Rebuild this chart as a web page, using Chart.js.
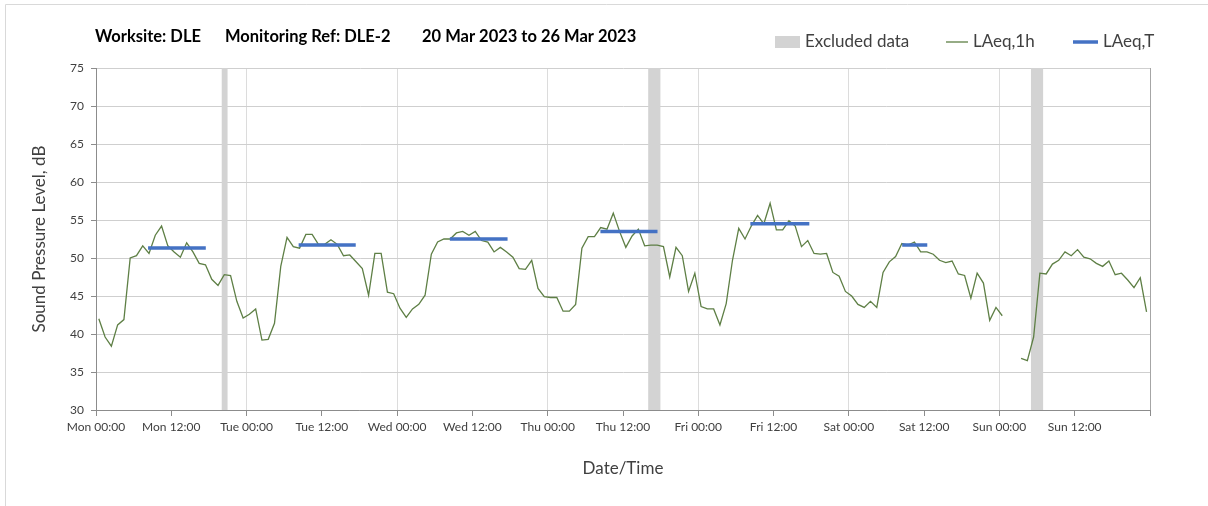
<!DOCTYPE html>
<html>
<head>
<meta charset="utf-8">
<script src="https://cdn.jsdelivr.net/npm/chart.js@4.4.0/dist/chart.umd.min.js"></script>
<style>
  html, body { margin: 0; padding: 0; background: #ffffff; }
  #wrap { width: 1208px; height: 506px; position: relative; }
</style>
</head>
<body>
<div id="wrap"><canvas id="c" width="1208" height="506"></canvas></div>
<script>
// ---- Data -------------------------------------------------------------
const titleParts = ['Worksite: DLE', 'Monitoring Ref: DLE-2', '20 Mar 2023 to 26 Mar 2023'];

// x-axis tick labels, one every 12 hours from Monday 00:00
const tickLabels = ['Mon 00:00', 'Mon 12:00', 'Tue 00:00', 'Tue 12:00', 'Wed 00:00', 'Wed 12:00',
  'Thu 00:00', 'Thu 12:00', 'Fri 00:00', 'Fri 12:00', 'Sat 00:00', 'Sat 12:00', 'Sun 00:00', 'Sun 12:00'];

// Hourly LAeq,1h (dB), hour 0 = Mon 00:00; null = no reading
const laeq1h = [
  42.0, 39.6, 38.4, 41.2, 41.9, 50.0, 50.3, 51.6, 50.6, 53.0, 54.2, 51.6,
  50.8, 50.1, 52.0, 50.8, 49.3, 49.1, 47.2, 46.4, 47.8, 47.7, 44.3, 42.1,
  42.6, 43.3, 39.2, 39.3, 41.4, 48.9, 52.7, 51.5, 51.3, 53.1, 53.1, 51.8,
  51.8, 52.4, 51.8, 50.3, 50.4, 49.5, 48.6, 45.1, 50.6, 50.6, 45.5, 45.3,
  43.4, 42.2, 43.3, 43.9, 45.1, 50.5, 52.1, 52.5, 52.5, 53.3, 53.5, 53.0,
  53.5, 52.3, 52.1, 50.8, 51.4, 50.8, 50.1, 48.6, 48.5, 49.7, 46.0, 44.9,
  44.8, 44.8, 43.0, 43.0, 43.9, 51.3, 52.8, 52.8, 54.0, 53.8, 55.9, 53.5,
  51.4, 52.9, 53.8, 51.6, 51.7, 51.7, 51.5, 47.5, 51.4, 50.3, 45.6, 48.0,
  43.6, 43.3, 43.3, 41.2, 44.0, 49.7, 53.9, 52.5, 54.2, 55.6, 54.5, 57.2,
  53.7, 53.7, 54.9, 54.2, 51.5, 52.3, 50.6, 50.5, 50.6, 48.1, 47.6, 45.6,
  45.0, 43.9, 43.5, 44.3, 43.5, 48.1, 49.5, 50.2, 51.9, 51.7, 52.1, 50.8,
  50.8, 50.5, 49.7, 49.4, 49.6, 47.9, 47.7, 44.7, 48.0, 46.7, 41.8, 43.5,
  42.4, null, null, 36.8, 36.5, 39.6, 48.0, 47.9, 49.2, 49.7, 50.8, 50.3,
  51.1, 50.1, 49.9, 49.3, 48.9, 49.6, 47.8, 48.0, 47.1, 46.1, 47.4, 42.9
];

// Daytime assessment periods (hours from Mon 00:00) and their LAeq,T (dB)
const periodStart = [8.3, 32.3, 56.4, 80.4, 104.3, 128.5];
const periodEnd   = [17.5, 41.4, 65.6, 89.5, 113.7, 132.5];
const laeqT       = [51.3, 51.7, 52.5, 53.5, 54.5, 51.7];

// Excluded periods (hours from Mon 00:00)
const excludedStart = [20, 88, 149];
const excludedEnd   = [21, 90, 151];

// ---- Build chart data -------------------------------------------------
const hourOffset = 0.45;   // each hourly reading plotted inside its hour
const Y_MIN = 30, Y_MAX = 75;

const laeq1hPoints = laeq1h.map((v, i) => ({ x: i + hourOffset, y: v }));

const laeqTPoints = [];
periodStart.forEach((s, i) => {
  laeqTPoints.push({ x: s, y: laeqT[i] }, { x: periodEnd[i], y: laeqT[i] }, { x: periodEnd[i] + 0.01, y: null });
});

const excludedPoints = [];
excludedStart.forEach((s, i) => {
  excludedPoints.push({ x: s, y: Y_MAX }, { x: excludedEnd[i], y: Y_MAX }, { x: excludedEnd[i] + 0.01, y: null });
});

const FONT = 'Lato, "Open Sans", sans-serif';
const TEXT = '#404040';

// Title, legend and outer frame
const headerPlugin = {
  id: 'header',
  afterDraw(chart) {
    const ctx = chart.ctx;
    ctx.save();
    ctx.strokeStyle = '#d9d9d9';
    ctx.lineWidth = 1;
    ctx.beginPath();
    ctx.moveTo(5.5, 506);
    ctx.lineTo(5.5, 4.5);
    ctx.lineTo(1208, 4.5);
    ctx.stroke();

    ctx.font = 'bold 16.5px ' + FONT;
    ctx.fillStyle = '#000000';
    ctx.textBaseline = 'middle';
    ctx.textAlign = 'left';
    const titleX = [95, 225, 422];
    titleParts.forEach((t, i) => ctx.fillText(t, titleX[i], 37));

    // legend entries follow dataset order
    ctx.font = '17px ' + FONT;
    const legendX = [775, 946, 1073];
    const symW = [25, 22, 25];
    const ly = 42;
    chart.data.datasets.forEach((ds, i) => {
      const x = legendX[i];
      if (ds.fill) {
        ctx.fillStyle = ds.backgroundColor;
        ctx.fillRect(x, ly - 6, symW[i], 12);
      } else {
        ctx.strokeStyle = ds.borderColor;
        ctx.lineWidth = ds.borderWidth;
        ctx.beginPath();
        ctx.moveTo(x, ly);
        ctx.lineTo(x + symW[i], ly);
        ctx.stroke();
      }
      ctx.fillStyle = TEXT;
      ctx.fillText(ds.label, x + symW[i] + 5, ly);
    });
    ctx.restore();
  }
};

new Chart(document.getElementById('c'), {
  type: 'line',
  data: {
    datasets: [
      {
        label: 'Excluded data',
        data: excludedPoints,
        backgroundColor: '#d3d3d3',
        borderColor: 'rgba(0,0,0,0)',
        borderWidth: 0,
        pointRadius: 0,
        fill: 'start',
        spanGaps: false,
        order: 3
      },
      {
        label: 'LAeq,1h',
        data: laeq1hPoints,
        borderColor: '#5e7f45',
        borderWidth: 1.3,
        pointRadius: 0,
        fill: false,
        tension: 0,
        spanGaps: false,
        order: 2
      },
      {
        label: 'LAeq,T',
        data: laeqTPoints,
        borderColor: '#4472c4',
        borderWidth: 3.5,
        pointRadius: 0,
        fill: false,
        spanGaps: false,
        order: 1
      }
    ]
  },
  options: {
    responsive: false,
    animation: false,
    events: [],
    layout: { padding: { top: 68, right: 58, bottom: 0, left: 0 } },
    plugins: {
      legend: { display: false },
      tooltip: { enabled: false },
      title: { display: false }
    },
    scales: {
      x: {
        type: 'linear',
        min: 0,
        max: 168,
        ticks: {
          stepSize: 12,
          autoSkip: false,
          maxRotation: 0,
          padding: 4,
          color: TEXT,
          font: { family: FONT, size: 12 },
          callback: (v) => tickLabels[Math.round(v / 12)] ?? ''
        },
        grid: {
          color: (c) => {
            const v = c.tick ? c.tick.value : 0;
            if (v === 168) return '#a6a6a6';
            return v % 24 === 0 ? '#dcdcdc' : 'rgba(0,0,0,0)';
          },
          tickColor: '#8c8c8c',
          tickLength: 6,
          lineWidth: 1
        },
        border: { color: '#8c8c8c', width: 1 },
        title: {
          display: true,
          text: 'Date/Time',
          color: TEXT,
          font: { family: FONT, size: 17 },
          padding: { top: 0, bottom: 27 }
        },
        afterFit: (s) => { s.height = 96; }
      },
      y: {
        min: Y_MIN,
        max: Y_MAX,
        ticks: {
          stepSize: 5,
          padding: 7,
          color: TEXT,
          font: { family: FONT, size: 12 }
        },
        grid: {
          color: '#cfcfcf',
          tickColor: '#8c8c8c',
          tickLength: 5,
          lineWidth: 1
        },
        border: { color: '#8c8c8c', width: 1 },
        title: {
          display: true,
          text: 'Sound Pressure Level, dB',
          color: TEXT,
          font: { family: FONT, size: 17 },
          padding: { top: 29, bottom: 0 }
        },
        afterFit: (s) => { s.width = 96; }
      }
    }
  },
  plugins: [headerPlugin]
});
</script>
</body>
</html>
